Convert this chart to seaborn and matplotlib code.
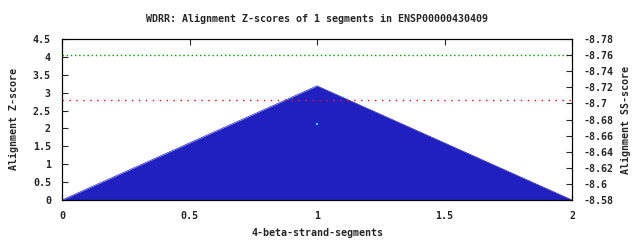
import matplotlib
matplotlib.use("Agg")
import matplotlib.pyplot as plt
import seaborn as sns
import numpy as np
import pandas as pd

title = "WDRR: Alignment Z-scores of 1 segments in ENSP00000430409"
segments = [0, 1, 2]
zscores = [0, 3.19, 0]
point_x = [1]
point_y = [2.12]
green_level = 4.05
red_level = 2.79
left_ticks = [0, 0.5, 1, 1.5, 2, 2.5, 3, 3.5, 4, 4.5]
right_ticks = [-8.58, -8.6, -8.62, -8.64, -8.66, -8.68, -8.7, -8.72, -8.74, -8.76, -8.78]
x_ticks = [0, 0.5, 1, 1.5, 2]

sns.set_style("white")
plt.rcParams['font.family'] = ['DejaVu Sans Mono']
plt.rcParams['font.weight'] = 'bold'
fs = 7.2

fig = plt.figure(figsize=(6.4, 2.4), dpi=100)
ax = fig.add_axes([62/640, 40/240, 510/640, 161/240])
df = pd.DataFrame({"x": segments, "z": zscores})
ax.fill_between(df["x"], df["z"], 0, color="#2020c0", lw=0, zorder=2)
sns.lineplot(data=df, x="x", y="z", ax=ax, color="#2020c0", lw=0.5, zorder=2)
sns.scatterplot(x=point_x, y=point_y, ax=ax, color="#00e0e0", s=4, marker="s", linewidth=0, zorder=4)
ax.axhline(green_level, color="#00a000", ls=(0, (1, 2)), lw=1, zorder=3)
ax.axhline(red_level, color="#ff0000", ls=(0, (1, 4)), lw=1, zorder=3)

ax.set_xlim(0, 2)
ax.set_ylim(0, 4.5)
ax.set_xticks(x_ticks)
ax.set_xticklabels(["%g" % t for t in x_ticks], fontsize=fs, fontweight="bold")
ax.set_yticks(left_ticks)
ax.set_yticklabels(["%g" % t for t in left_ticks], fontsize=fs, fontweight="bold")
ax.tick_params(direction="in", length=4, width=0.8, top=True, bottom=True, left=True, right=False, pad=8)
ax.set_xlabel("4-beta-strand-segments", fontsize=fs, fontweight="bold", labelpad=5)
ax.set_ylabel("Alignment Z-score", fontsize=fs, fontweight="bold", labelpad=10)
ax.set_title(title, fontsize=fs, fontweight="bold", pad=12)
for s in ax.spines.values():
    s.set_color("black")
    s.set_linewidth(0.8)

ax2 = ax.twinx()
ax2.set_ylim(-8.58, -8.78)
ax2.set_yticks(right_ticks)
ax2.set_yticklabels(["%g" % t for t in right_ticks], fontsize=fs, fontweight="bold")
ax2.tick_params(direction="in", length=4, width=0.8, pad=8)
ax2.set_ylabel("Alignment SS-score", fontsize=fs, fontweight="bold", labelpad=6)
for s in ax2.spines.values():
    s.set_color("black")
    s.set_linewidth(0.8)

fig.savefig("out.png", dpi=100)
